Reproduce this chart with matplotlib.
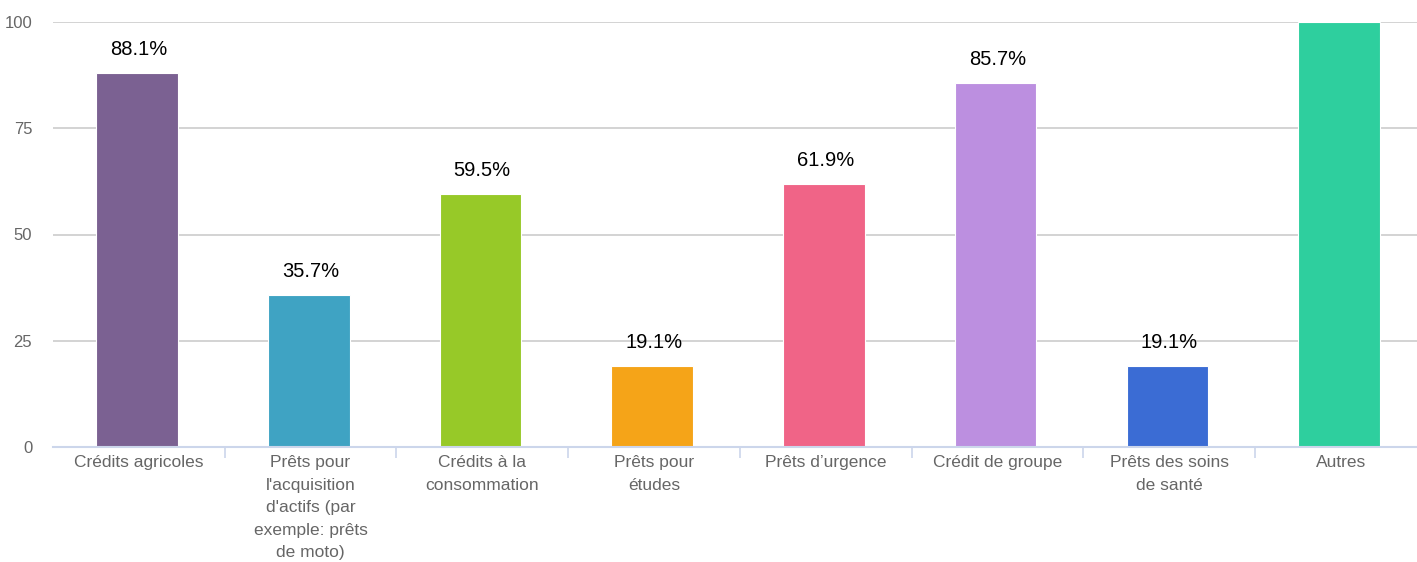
import matplotlib
matplotlib.use("Agg")
import matplotlib.pyplot as plt
import numpy as np

categories = [
    "Crédits agricoles",
    "Prêts pour\nl'acquisition\nd'actifs (par\nexemple: prêts\nde moto)",
    "Crédits à la\nconsommation",
    "Prêts pour\nétudes",
    "Prêts d’urgence",
    "Crédit de groupe",
    "Prêts des soins\nde santé",
    "Autres",
]
values = [88.1, 35.7, 59.5, 19.1, 61.9, 85.7, 19.1, 100.0]
colors = ["#7b6192", "#3fa3c3", "#97c928", "#f5a418", "#f06487", "#bc8fe0", "#3b6cd4", "#2ecf9e"]
yticks = [0, 25, 50, 75, 100]

plt.rcParams['font.family'] = ['Liberation Sans', 'DejaVu Sans']

W, H = 1417, 562
fig = plt.figure(figsize=(W / 100, H / 100), dpi=100)
left_px, slot_px = 53, 171.7
ax = fig.add_axes([left_px / W, 1 - 447 / H, 8 * slot_px / W, (447 - 22) / H])

x = np.arange(len(categories))
ax.bar(x - 0.01, values, width=0.475, color=colors, edgecolor="white", linewidth=0.8, zorder=3)

ymax = 100
for xi, v in zip(x, values):
    if v >= ymax:
        continue  # label falls outside the plot area, hidden as in the reference
    ax.annotate(f"{v:.1f}%", (xi, v), xytext=(0, 10), textcoords="offset points",
                ha="center", va="bottom", fontsize=14.5, color="black")

ax.set_xlim(-0.5, len(categories) - 0.5)
ax.set_ylim(0, ymax)
ax.set_yticks(yticks)
ax.set_yticklabels([str(t) for t in yticks])
ax.grid(axis="y", color="#cccccc", linewidth=1.2, zorder=0)
ax.set_axisbelow(True)

ax.set_xticks(x)
ax.set_xticklabels(categories, fontsize=12.5, color="#666666", linespacing=1.62, va="top")
ax.set_xticks(np.arange(0.5, len(categories) - 1, 1.0), minor=True)
ax.tick_params(axis="x", which="major", length=0, pad=6)
ax.tick_params(axis="x", which="minor", length=8, color="#ccd6eb", width=1.2)
ax.tick_params(axis="y", length=0, labelsize=12, labelcolor="#666666", pad=15)

for s in ["top", "right", "left"]:
    ax.spines[s].set_visible(False)
ax.spines["bottom"].set_color("#ccd6eb")
ax.spines["bottom"].set_linewidth(1.5)
ax.spines["bottom"].set_zorder(4)

fig.savefig("out.png", dpi=100)
